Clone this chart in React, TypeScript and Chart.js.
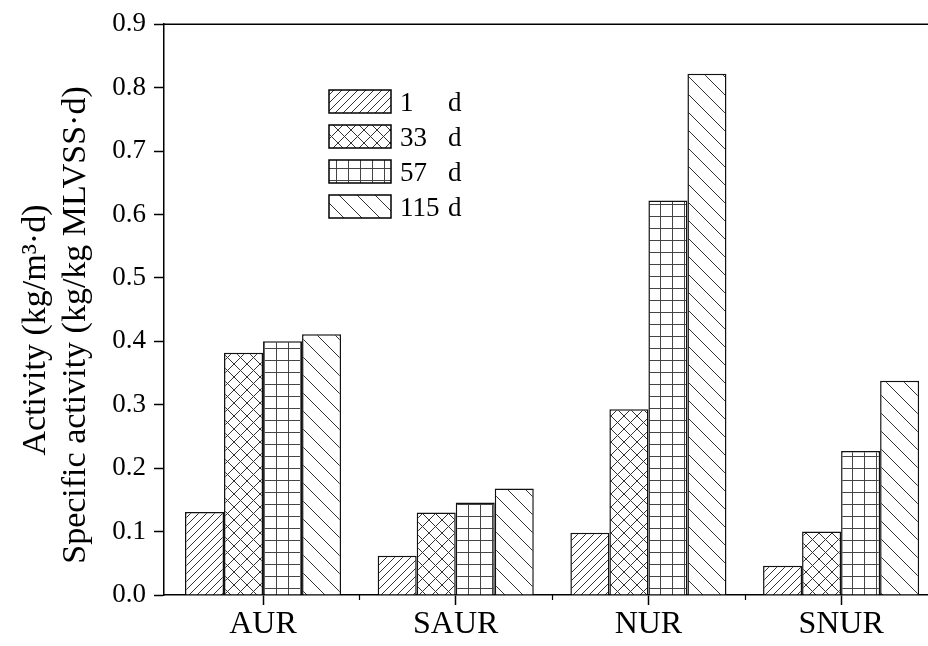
import React, { useEffect, useRef } from "react";
import { Chart, registerables } from "chart.js";

Chart.register(...registerables);

const categories = ["AUR", "SAUR", "NUR", "SNUR"];
const seriesLabels = ["1 d", "33 d", "57 d", "115 d"];
const day1 = [0.131, 0.062, 0.098, 0.046];
const day33 = [0.382, 0.130, 0.293, 0.100];
const day57 = [0.400, 0.146, 0.622, 0.227];
const day115 = [0.411, 0.168, 0.822, 0.338];
const yTicks = [0, 0.1, 0.2, 0.3, 0.4, 0.5, 0.6, 0.7, 0.8, 0.9];
const yTitleLines = ["Activity (kg/m\u00b3\u00b7d)", "Specific activity (kg/kg MLVSS\u00b7d)"];

const FONT = "'Liberation Serif', 'Times New Roman', serif";

function makePattern(ctx: CanvasRenderingContext2D, kind: string): CanvasPattern {
  const size = kind === "fwd" ? 8 : kind === "cross" ? 13 : kind === "grid" ? 12 : 18;
  const c = document.createElement("canvas");
  c.width = size;
  c.height = size;
  const g = c.getContext("2d")!;
  g.fillStyle = "#fff";
  g.fillRect(0, 0, size, size);
  g.strokeStyle = "#333";
  g.lineWidth = 1;
  const fwd = () => {
    for (let k = -1; k <= 1; k++) {
      g.beginPath();
      g.moveTo(k * size, size);
      g.lineTo(k * size + size, 0);
      g.stroke();
    }
  };
  const back = () => {
    for (let k = -1; k <= 1; k++) {
      g.beginPath();
      g.moveTo(k * size, 0);
      g.lineTo(k * size + size, size);
      g.stroke();
    }
  };
  if (kind === "fwd") fwd();
  else if (kind === "back") back();
  else if (kind === "cross") {
    fwd();
    back();
  } else {
    g.fillStyle = "#444";
    g.fillRect(0, 0, size, 1);
    g.fillRect(0, 0, 1, size);
  }
  return ctx.createPattern(c, "repeat")!;
}

export default function App() {
  const ref = useRef<HTMLCanvasElement>(null);

  useEffect(() => {
    const canvas = ref.current!;
    const ctx = canvas.getContext("2d")!;
    const kinds = ["fwd", "cross", "grid", "back"];
    const patterns = kinds.map((k) => makePattern(ctx, k));
    const series = [day1, day33, day57, day115];

    const decor = {
      id: "decor",
      afterDraw(chart: any) {
        const c = chart.ctx as CanvasRenderingContext2D;
        const area = chart.chartArea;
        const xs = chart.scales.x;
        c.save();
        // top frame line
        c.strokeStyle = "#000";
        c.lineWidth = 1.5;
        c.beginPath();
        c.moveTo(area.left, area.top);
        c.lineTo(area.right + 2, area.top);
        c.stroke();
        // minor x ticks
        c.lineWidth = 1.2;
        [0.5, 1.5, 2.5].forEach((v) => {
          const px = Math.round(xs.getPixelForValue(v)) + 0.5;
          c.beginPath();
          c.moveTo(px, area.bottom);
          c.lineTo(px, area.bottom + 5);
          c.stroke();
        });
        // y title (two lines)
        c.fillStyle = "#000";
        c.font = `34px ${FONT}`;
        c.textAlign = "center";
        c.textBaseline = "alphabetic";
        const centers = [330, 325];
        const basesX = [45, 85];
        yTitleLines.forEach((t, i) => {
          c.save();
          c.translate(basesX[i], centers[i]);
          c.rotate(-Math.PI / 2);
          c.fillText(t, 0, 0);
          c.restore();
        });
        // legend
        chart.data.datasets.forEach((ds: any, i: number) => {
          const bx = 329;
          const by = 90 + 35 * i;
          c.fillStyle = ds.backgroundColor;
          c.fillRect(bx, by, 62, 23);
          c.strokeStyle = "#000";
          c.lineWidth = 1.5;
          c.strokeRect(bx, by, 62, 23);
          const parts = String(ds.label).split(" ");
          c.fillStyle = "#000";
          c.font = `27px ${FONT}`;
          c.textAlign = "left";
          c.textBaseline = "alphabetic";
          c.fillText(parts[0], 400, by + 21);
          c.fillText(parts[1], 448, by + 21);
        });
        c.restore();
      },
    };

    const chart = new Chart(canvas, {
      type: "bar",
      data: {
        datasets: series.map((vals, si) => ({
          label: seriesLabels[si],
          data: categories.map((_, i) => ({ x: i, y: vals[i] })),
          backgroundColor: patterns[si] as any,
          borderColor: "#111",
          borderWidth: 1.5,
          categoryPercentage: 0.81,
          barPercentage: 1.0,
        })),
      },
      options: {
        animation: false,
        responsive: false,
        devicePixelRatio: 1,
        layout: { padding: { top: 22, left: 0, right: 0, bottom: 0 } },
        plugins: {
          legend: { display: false },
          tooltip: { enabled: false },
        },
        scales: {
          x: {
            type: "linear",
            offset: false,
            min: -0.514,
            max: 3.451,
            afterBuildTicks: (s: any) => {
              s.ticks = categories.map((_, i) => ({ value: i }));
            },
            afterFit: (s: any) => {
              s.height = 51;
            },
            ticks: {
              callback: (v: any) => categories[Math.round(Number(v))] ?? "",
              font: { family: FONT, size: 32 },
              color: "#000",
              padding: 0,
              maxRotation: 0,
              autoSkip: false,
            },
            grid: {
              offset: false,
              drawOnChartArea: false,
              drawTicks: true,
              tickLength: 10,
              tickColor: "#000",
              tickWidth: 1.5,
            },
            border: { display: true, color: "#000", width: 1.5 },
          },
          y: {
            min: 0,
            max: 0.9,
            afterBuildTicks: (s: any) => {
              s.ticks = yTicks.map((v) => ({ value: v }));
            },
            afterFit: (s: any) => {
              s.width = 164;
            },
            ticks: {
              callback: (v: any) => Number(v).toFixed(1),
              font: { family: FONT, size: 27 },
              color: "#000",
              padding: 8,
            },
            grid: {
              drawOnChartArea: false,
              drawTicks: true,
              tickLength: 10,
              tickColor: "#000",
              tickWidth: 1.5,
            },
            border: { display: true, color: "#000", width: 1.5 },
          },
        },
      },
      plugins: [decor],
    } as any);

    return () => chart.destroy();
  }, []);

  return (
    <div
      style={{
        position: "fixed",
        left: 0,
        top: 0,
        width: 928,
        height: 646,
        overflow: "hidden",
        background: "#fff",
      }}
    >
      <canvas ref={ref} width={928} height={646} style={{ display: "block" }} />
    </div>
  );
}
